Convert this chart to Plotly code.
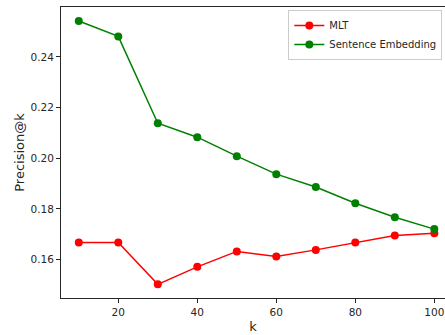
import plotly.graph_objects as go

k = [10, 20, 30, 40, 50, 60, 70, 80, 90, 100]
mlt = [0.1667, 0.1667, 0.1502, 0.1571, 0.1632, 0.1612, 0.1638, 0.1667, 0.1695, 0.1704]
sent_emb = [0.2542, 0.2481, 0.2138, 0.2083, 0.2008, 0.1937, 0.1886, 0.1822, 0.1767, 0.1720]
x_ticks = [20, 40, 60, 80, 100]
y_ticks = [0.16, 0.18, 0.20, 0.22, 0.24]

fig = go.Figure()
fig.add_trace(go.Scatter(x=k, y=mlt, mode="lines+markers", name="MLT",
                         line=dict(color="#ff0000", width=1.5),
                         marker=dict(color="#ff0000", size=8)))
fig.add_trace(go.Scatter(x=k, y=sent_emb, mode="lines+markers", name="Sentence Embedding",
                         line=dict(color="#008000", width=1.5),
                         marker=dict(color="#008000", size=8)))

fig.update_layout(
    width=445, height=335,
    margin=dict(l=61, r=0, t=7, b=37, autoexpand=False),
    paper_bgcolor="white", plot_bgcolor="white",
    font=dict(family="DejaVu Sans", size=10.5, color="#262626"),
    showlegend=True,
    legend=dict(x=0.592, y=0.99, xanchor="left", yanchor="top",
                bgcolor="rgba(255,255,255,0.8)", bordercolor="#cccccc", borderwidth=1,
                font=dict(size=10, color="#262626"), tracegroupgap=0),
    xaxis=dict(range=[5.5, 102.7], tickvals=x_ticks, ticktext=[str(v) for v in x_ticks],
               showgrid=False, zeroline=False, showline=True, linecolor="#262626", linewidth=1,
               mirror=True, ticks="outside", ticklen=4, tickcolor="#262626", automargin=False,
               title=dict(text="k", standoff=5)),
    yaxis=dict(range=[0.1448, 0.2597], tickvals=y_ticks, ticktext=[f"{v:.2f}" for v in y_ticks],
               showgrid=False, zeroline=False, showline=True, linecolor="#262626", linewidth=1,
               mirror=False, ticks="outside", ticklen=4, tickcolor="#262626", automargin=False,
               title=dict(text="Precision@k", standoff=2)),
)
fig.write_html("out.html", config={"displayModeBar": False},
               post_script="document.body.style.margin='0';document.body.style.overflow='hidden';")
